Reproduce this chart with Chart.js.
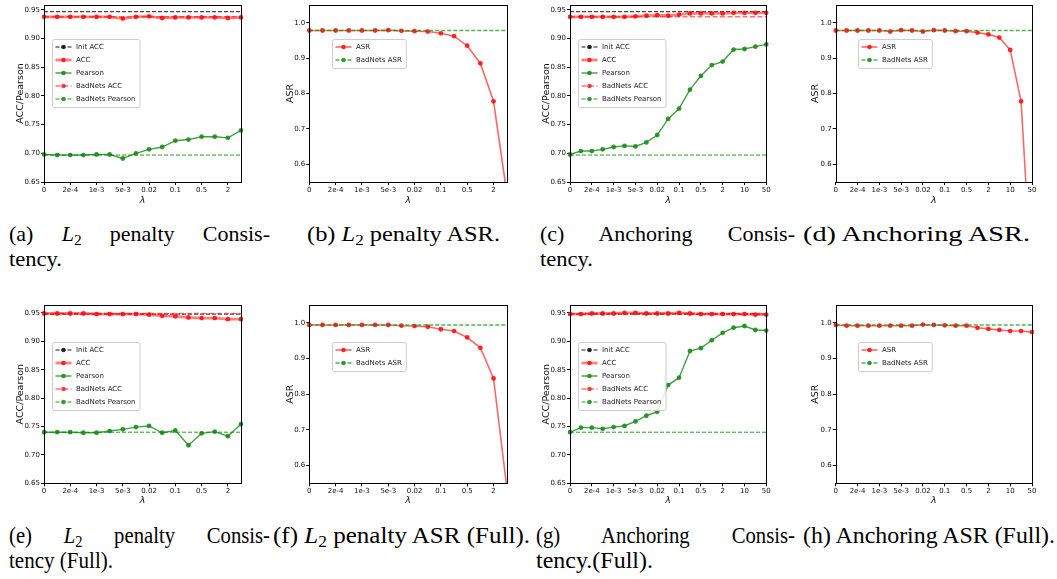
<!DOCTYPE html>
<html><head><meta charset="utf-8">
<script src="https://cdn.jsdelivr.net/npm/chart.js@4.4.0/dist/chart.umd.min.js"></script>
<style>
html,body{margin:0;padding:0;background:#fff;}
body{width:1057px;height:579px;position:relative;overflow:hidden;}
canvas{position:absolute;}
.cap{position:absolute;font-family:"Liberation Serif","Times New Roman",serif;color:#000;white-space:nowrap;line-height:1;transform-origin:0 0;}
.j{text-align:justify;text-align-last:justify;}
.cap sub{font-size:0.7em;vertical-align:-0.25em;line-height:0;font-style:normal;}
.r1{font-size:22px;}
.r2{font-size:23px;}
</style></head><body>
<canvas id="ca"></canvas><canvas id="cb"></canvas><canvas id="cc"></canvas><canvas id="cd"></canvas>
<canvas id="ce"></canvas><canvas id="cf"></canvas><canvas id="cg"></canvas><canvas id="ch"></canvas>

<div class="cap r1 j" data-jw="261" data-s="1" style="left:9px;top:222.6px">(a) <i>L</i><sub>2</sub> penalty Consis-</div>
<div class="cap r1" data-w="53" style="left:9px;top:247.6px">tency.</div>
<div class="cap r1" data-w="193" style="left:307px;top:222.6px">(b) <i>L</i><sub>2</sub> penalty ASR.</div>
<div class="cap r1 j" data-jw="255" data-s="1" style="left:540px;top:222.6px">(c) Anchoring Consis-</div>
<div class="cap r1" data-w="53" style="left:540px;top:247.6px">tency.</div>
<div class="cap r1" data-w="227" style="left:803px;top:222.6px">(d) Anchoring ASR.</div>

<div class="cap r2 j" data-jw="261" data-s="0.9" style="left:9px;top:523.7px">(e) <i>L</i><sub>2</sub> penalty Consis-</div>
<div class="cap r2" data-w="104" style="left:9px;top:548.7px">tency (Full).</div>
<div class="cap r2" data-w="257" style="left:273px;top:523.7px">(f) <i>L</i><sub>2</sub> penalty ASR (Full).</div>
<div class="cap r2 j" data-jw="259" data-s="0.9" style="left:536px;top:523.7px">(g) Anchoring Consis-</div>
<div class="cap r2" data-w="117" style="left:536px;top:548.7px">tency.(Full).</div>
<div class="cap r2" data-w="252" style="left:803px;top:523.7px">(h) Anchoring ASR (Full).</div>

<script>
// ---------------- data ----------------
const lambdaL2 = ['0','1e-4','2e-4','5e-4','1e-3','2e-3','5e-3','0.01','0.02','0.05','0.1','0.2','0.5','1','2','5'];
const lambdaAnchor = ['0','1e-4','2e-4','5e-4','1e-3','2e-3','5e-3','0.01','0.02','0.05','0.1','0.2','0.5','1','2','5','10','20','50'];
const xTickLabels = ['0','2e-4','1e-3','5e-3','0.02','0.1','0.5','2','10','50'];
const yTicksCons = [0.65,0.70,0.75,0.80,0.85,0.90,0.95];
const yTicksASR = [0.6,0.7,0.8,0.9,1.0];

// (a) L2 penalty consistency
const accL2 = [0.938,0.938,0.938,0.938,0.938,0.938,0.935,0.938,0.939,0.936,0.937,0.937,0.937,0.937,0.936,0.937];
const pearsonL2 = [0.698,0.697,0.697,0.697,0.698,0.698,0.691,0.700,0.707,0.711,0.722,0.724,0.729,0.729,0.727,0.740];
// (b) L2 penalty ASR
const asrL2 = [0.978,0.978,0.978,0.978,0.978,0.978,0.979,0.977,0.976,0.975,0.970,0.962,0.935,0.885,0.778,0.52];
// (c) Anchoring consistency
const accAnchor = [0.938,0.938,0.938,0.938,0.938,0.938,0.939,0.940,0.941,0.940,0.942,0.944,0.944,0.944,0.944,0.945,0.945,0.945,0.945];
const pearsonAnchor = [0.698,0.704,0.704,0.707,0.711,0.713,0.712,0.719,0.732,0.760,0.778,0.811,0.835,0.854,0.860,0.881,0.882,0.886,0.890];
// (d) Anchoring ASR
const asrAnchor = [0.978,0.978,0.978,0.978,0.978,0.975,0.979,0.978,0.975,0.979,0.978,0.976,0.976,0.972,0.967,0.958,0.923,0.778,0.25];
// (e) L2 penalty consistency (Full)
const accL2Full = [0.949,0.949,0.949,0.949,0.948,0.948,0.948,0.948,0.947,0.945,0.944,0.942,0.941,0.941,0.939,0.939];
const pearsonL2Full = [0.740,0.740,0.740,0.739,0.739,0.742,0.745,0.749,0.751,0.739,0.743,0.717,0.738,0.741,0.733,0.754];
// (f) L2 penalty ASR (Full)
const asrL2Full = [0.994,0.994,0.994,0.994,0.994,0.994,0.994,0.992,0.991,0.989,0.982,0.977,0.959,0.930,0.844,0.54];
// (g) Anchoring consistency (Full)
const accAnchorFull = [0.948,0.948,0.949,0.949,0.949,0.950,0.950,0.949,0.949,0.949,0.950,0.949,0.948,0.948,0.948,0.948,0.948,0.947,0.947];
const pearsonAnchorFull = [0.740,0.748,0.748,0.746,0.749,0.751,0.759,0.769,0.776,0.823,0.836,0.883,0.888,0.902,0.915,0.924,0.927,0.920,0.919];
// (h) Anchoring ASR (Full)
const asrAnchorFull = [0.994,0.992,0.992,0.992,0.992,0.992,0.992,0.992,0.995,0.994,0.993,0.992,0.992,0.986,0.983,0.980,0.977,0.977,0.974];

// baselines
const initAcc = 0.947, badnetsAcc = 0.938, badnetsPearson = 0.697, badnetsASR = 0.978;
const initAccFull = 0.948, badnetsAccFull = 0.949, badnetsPearsonFull = 0.740, badnetsASRFull = 0.994;

// ---------------- captions fitting ----------------
function fitCaptions(){
  document.querySelectorAll('.cap').forEach(el => {
    el.style.transform = 'none';
    if (el.dataset.jw) {
      const s = parseFloat(el.dataset.s);
      el.style.width = (parseFloat(el.dataset.jw) / s) + 'px';
      el.style.transform = 'scaleX(' + s + ')';
    } else if (el.dataset.w) {
      el.style.width = 'auto';
      const nat = el.getBoundingClientRect().width;
      if (nat > 0) el.style.transform = 'scaleX(' + (parseFloat(el.dataset.w) / nat) + ')';
    }
  });
}
fitCaptions();
if (document.fonts && document.fonts.ready) document.fonts.ready.then(fitCaptions);

// ---------------- styles ----------------
Chart.defaults.font.family = '"DejaVu Sans", sans-serif';
Chart.defaults.color = '#000';

const ST = {
  init:   {borderColor:'rgba(0,0,0,0.9)', borderWidth:1, borderDash:[4,2], pointBackgroundColor:'rgba(0,0,0,0.8)'},
  acc:    {borderColor:'rgba(255,0,0,0.5)', borderWidth:2.8, pointBackgroundColor:'rgba(255,20,20,0.9)'},
  pear:   {borderColor:'rgba(0,128,0,0.75)', borderWidth:1.4, pointBackgroundColor:'rgba(30,140,30,0.9)'},
  bAcc:   {borderColor:'rgba(255,0,0,0.55)', borderWidth:1.5, borderDash:[5,2.5], pointBackgroundColor:'rgba(255,20,20,0.8)'},
  bPear:  {borderColor:'rgba(0,140,0,0.85)', borderWidth:1, borderDash:[4,2], pointBackgroundColor:'rgba(30,140,30,0.85)'},
  asr:    {borderColor:'rgba(255,0,0,0.6)', borderWidth:1.6, pointBackgroundColor:'rgba(255,20,20,0.9)'},
  bAsr:   {borderColor:'rgba(0,150,0,0.7)', borderWidth:1.4, borderDash:[4,2], pointBackgroundColor:'rgba(30,140,30,0.85)'}
};

function series(label, data, st){
  return Object.assign({label, data, pointRadius:2.4, pointHoverRadius:2.4, pointBorderWidth:0, tension:0, fill:false}, st);
}
function baseline(label, v, labels, st){
  return Object.assign({label, data:[{x:labels[0], y:v},{x:labels[labels.length-1], y:v}], pointRadius:0, pointHoverRadius:0, tension:0, fill:false}, st);
}

const framePlugin = {
  id:'frame',
  afterDraw(chart){
    const {ctx, chartArea:a} = chart;
    ctx.save();
    ctx.strokeStyle = '#000'; ctx.lineWidth = 1;
    ctx.strokeRect(Math.round(a.left)+0.5, Math.round(a.top)+0.5, Math.round(a.right)-Math.round(a.left), Math.round(a.bottom)-Math.round(a.top));
    ctx.restore();
  }
};
const legendPlugin = {
  id:'mplLegend',
  afterDraw(chart, args, opts){
    const {ctx, chartArea} = chart;
    const items = opts.items;
    ctx.save();
    ctx.font = '7px "DejaVu Sans"';
    const rowH = 13;
    const tw = Math.max(...items.map(i => ctx.measureText(chart.data.datasets[i].label).width));
    const w = tw + 28, h = items.length*rowH + 3;
    const x = Math.round(chartArea.left + opts.dx), y = Math.round(chartArea.top + opts.dy);
    ctx.beginPath();
    ctx.roundRect(x+0.5, y+0.5, w, h, 2);
    ctx.fillStyle = 'rgba(255,255,255,0.85)'; ctx.fill();
    ctx.strokeStyle = '#cccccc'; ctx.lineWidth = 1; ctx.stroke();
    items.forEach((di,k) => {
      const ds = chart.data.datasets[di];
      const cy = y + 8 + k*rowH;
      ctx.beginPath();
      ctx.setLineDash(ds.borderDash || []);
      ctx.strokeStyle = ds.borderColor; ctx.lineWidth = ds.borderWidth;
      ctx.moveTo(x+3.5, cy); ctx.lineTo(x+19.5, cy); ctx.stroke();
      ctx.setLineDash([]);
      ctx.beginPath(); ctx.arc(x+11.5, cy, 2.3, 0, Math.PI*2);
      ctx.fillStyle = ds.pointBackgroundColor; ctx.fill();
      ctx.fillStyle = '#222'; ctx.textBaseline = 'middle'; ctx.textAlign = 'left';
      ctx.fillText(ds.label, x+24, cy);
    });
    ctx.restore();
  }
};

function makeChart(id, box, labels, datasets, yMin, yMax, yTicks, yTitle, digits, leg){
  const cv = document.getElementById(id);
  cv.width = box.W; cv.height = box.H;
  cv.style.left = box.L + 'px'; cv.style.top = box.T + 'px';
  cv.style.width = box.W + 'px'; cv.style.height = box.H + 'px';
  const n = datasets.length;
  datasets.forEach((d,k) => { d.order = n - k; });
  const padR = box.W - (box.right - box.L);
  new Chart(cv, {
    type:'line',
    data:{labels, datasets},
    options:{
      responsive:false, animation:false, devicePixelRatio:1,
      events:[],
      layout:{padding:{left:0, right:padR, top:5, bottom:0}},
      plugins:{legend:{display:false}, tooltip:{enabled:false}, mplLegend:leg},
      scales:{
        x:{
          type:'category', offset:false,
          border:{display:false},
          grid:{drawOnChartArea:false, drawTicks:true, tickLength:3, lineWidth:1,
                color: c => xTickLabels.includes(labels[c.index]) ? '#000' : 'rgba(0,0,0,0)'},
          ticks:{autoSkip:false, maxRotation:0, minRotation:0, padding:1, font:{size:7}, color:'#111',
                 callback: function(v, i){ const l = labels[i]; return xTickLabels.includes(l) ? l : ''; }},
          title:{display:true, text:'λ', font:{size:9.5, style:'italic'}, padding:0, color:'#111'},
          afterFit: s => { s.height = box.H - 5 - box.plotH; s.paddingLeft = 0; s.paddingRight = 0; }
        },
        y:{
          min:yMin, max:yMax,
          border:{display:false},
          grid:{drawOnChartArea:false, drawTicks:true, tickLength:3, lineWidth:1, color:'#000'},
          ticks:{padding:1, font:{size:7}, color:'#111', callback: v => Number(v).toFixed(digits)},
          afterBuildTicks: s => { s.ticks = yTicks.map(v => ({value:v})); },
          title:{display:true, text:yTitle, font:{size:9.5}, padding:0, color:'#111'},
          afterFit: s => { s.width = box.spine - box.L; s.paddingTop = 0; s.paddingBottom = 0; }
        }
      }
    },
    plugins:[framePlugin, legendPlugin]
  });
}

// ---------------- layout boxes ----------------
const R1 = {T:0, H:206, plotH:177}, R2 = {T:300, H:206, plotH:178.3};
const colA = {L:15, W:234, spine:44, right:241};
const colB = {L:285, W:230, spine:309.3, right:506.7};
const colC = {L:541, W:234, spine:570, right:766.3};
const colD = {L:810, W:232, spine:835.7, right:1032};
const bx = (c,r) => Object.assign({}, c, r);

function consSets(lbl, acc, pear, init, bAcc, bPear){
  return [
    baseline('Init ACC', init, lbl, ST.init),
    series('ACC', acc, ST.acc),
    series('Pearson', pear, ST.pear),
    baseline('BadNets ACC', bAcc, lbl, ST.bAcc),
    baseline('BadNets Pearson', bPear, lbl, ST.bPear)
  ];
}
function asrSets(lbl, asr, bAsr){
  return [ series('ASR', asr, ST.asr), baseline('BadNets ASR', bAsr, lbl, ST.bAsr) ];
}
const legCons1 = {items:[0,1,2,3,4], dx:8, dy:34};
const legCons2 = {items:[0,1,2,3,4], dx:8, dy:37};
const legAsr1 = {items:[0,1], dx:22.7, dy:34};
const legAsr2 = {items:[0,1], dx:22.7, dy:37};

makeChart('ca', bx(colA,R1), lambdaL2, consSets(lambdaL2, accL2, pearsonL2, initAcc, badnetsAcc, badnetsPearson), 0.65, 0.9587, yTicksCons, 'ACC/Pearson', 2, legCons1);
makeChart('cb', bx(colB,R1), lambdaL2, asrSets(lambdaL2, asrL2, badnetsASR), 0.55, 1.05, yTicksASR, 'ASR', 1, legAsr1);
makeChart('cc', bx(colC,R1), lambdaAnchor, consSets(lambdaAnchor, accAnchor, pearsonAnchor, initAcc, badnetsAcc, badnetsPearson), 0.65, 0.9587, yTicksCons, 'ACC/Pearson', 2, legCons1);
makeChart('cd', bx(colD,R1), lambdaAnchor, asrSets(lambdaAnchor, asrAnchor, badnetsASR), 0.55, 1.05, yTicksASR, 'ASR', 1, legAsr1);

makeChart('ce', bx(colA,R2), lambdaL2, consSets(lambdaL2, accL2Full, pearsonL2Full, initAccFull, badnetsAccFull, badnetsPearsonFull), 0.65, 0.964, yTicksCons, 'ACC/Pearson', 2, legCons2);
makeChart('cf', bx(colB,R2), lambdaL2, asrSets(lambdaL2, asrL2Full, badnetsASRFull), 0.55, 1.05, yTicksASR, 'ASR', 1, legAsr2);
makeChart('cg', bx(colC,R2), lambdaAnchor, consSets(lambdaAnchor, accAnchorFull, pearsonAnchorFull, initAccFull, badnetsAccFull, badnetsPearsonFull), 0.65, 0.964, yTicksCons, 'ACC/Pearson', 2, legCons2);
makeChart('ch', bx(colD,R2), lambdaAnchor, asrSets(lambdaAnchor, asrAnchorFull, badnetsASRFull), 0.55, 1.05, yTicksASR, 'ASR', 1, legAsr2);
</script>
</body></html>
